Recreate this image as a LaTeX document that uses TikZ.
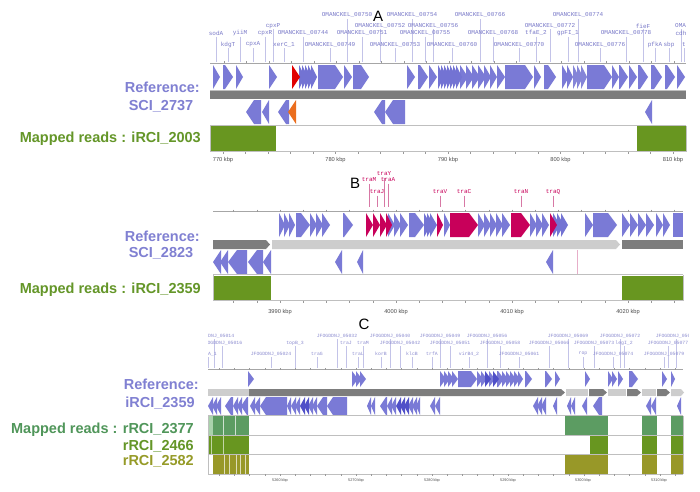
\documentclass[tikz,border=0pt]{standalone}
\usepackage{fontspec}
\setmainfont{Liberation Sans}
\newfontfamily\monof{Liberation Mono}
\definecolor{gb}{RGB}{122,122,214}
\definecolor{gd}{RGB}{80,80,200}
\definecolor{gred}{RGB}{225,0,0}
\definecolor{gorg}{RGB}{235,110,30}
\definecolor{gpink}{RGB}{200,0,90}
\definecolor{rdgray}{RGB}{125,125,125}
\definecolor{rlgray}{RGB}{205,205,205}
\definecolor{rgreen}{RGB}{104,150,32}
\definecolor{rteal}{RGB}{92,156,98}
\definecolor{rtealL}{RGB}{170,210,172}
\definecolor{rolive}{RGB}{152,152,40}
\definecolor{reflab}{RGB}{128,128,210}
\definecolor{maplab}{RGB}{100,150,40}
\definecolor{tealab}{RGB}{80,150,90}
\definecolor{olivlab}{RGB}{150,155,40}
\definecolor{tlab}{RGB}{120,120,200}
\definecolor{tline}{RGB}{195,195,232}
\definecolor{plline}{RGB}{215,120,165}
\newcommand\genef[6]{%
 \pgfmathsetmacro\gA{max(#2,#3-#6)}%
 \pgfmathsetmacro\gM{(#4+#5)/2}%
 \fill[#1] (#2,#4) -- (\gA,#4) -- (#3,\gM) -- (\gA,#5) -- (#2,#5) -- cycle;}
\newcommand\gener[6]{%
 \pgfmathsetmacro\gA{min(#3,#2+#6)}%
 \pgfmathsetmacro\gM{(#4+#5)/2}%
 \fill[#1] (#2,\gM) -- (\gA,#4) -- (#3,#4) -- (#3,#5) -- (\gA,#5) -- cycle;}
\tikzset{
 sidelab/.style={font=\fontsize{14.5}{17}\selectfont\bfseries, inner sep=0pt},
 alab/.style={font=\monof\fontsize{6}{6}\selectfont, text=tlab, inner sep=0pt},
 clab/.style={font=\monof\fontsize{4.8}{5}\selectfont, text=tlab!85, inner sep=0pt},
 plab/.style={font=\monof\fontsize{6}{6}\selectfont, text=gpink, inner sep=0pt},
 lline/.style={draw=tline, line width=0.5pt},
 pline/.style={draw=plline, line width=0.5pt},
 axlab/.style={font=\fontsize{5.7}{6}\selectfont, text=black!70, inner sep=0pt},
 caxlab/.style={font=\fontsize{3.8}{4}\selectfont, text=black!70, inner sep=0pt},
 rulerline/.style={draw=black!35, line width=0.8pt},
 trackline/.style={draw=black!25, line width=0.5pt},
 tick/.style={draw=black!40, line width=0.4pt},
 letter/.style={font=\fontsize{15}{15}\selectfont, inner sep=0pt},
}
\begin{document}
\begin{tikzpicture}[x=1pt,y=-1pt]
\useasboundingbox (0,0) rectangle (700,491);
\fill[white] (0,0) rectangle (700,491);

% ================= Panel A =================
\begin{scope}
\clip (208,0) rectangle (688,64);
\foreach \x/\t in {347/OMANCKEL\_00750,412/OMANCKEL\_00754,480/OMANCKEL\_00766,578/OMANCKEL\_00774}
 {\draw[lline] (\x,19) -- (\x,62); \node[alab] (ta1\x) at (\x,15) {\t};}
\foreach \x/\t in {273/cpxP,380/OMANCKEL\_00752,433/OMANCKEL\_00756,550/OMANCKEL\_00772,643/fieF}
 {\draw[lline] (\x,29) -- (\x,62); \node[alab] (ta2\x) at (\x,26) {\t};}
\node[alab, anchor=west] (ta2oma) at (675,26) {OMA};
\draw[lline] (681,29) -- (681,62);
\foreach \x/\t in {216/sodA,240/yiiM,265/cpxR,303/OMANCKEL\_00744,362/OMANCKEL\_00751,425/OMANCKEL\_00755,493/OMANCKEL\_00768,536/tfaE\_2,568/gpFI\_1,626/OMANCKEL\_00778,681/cdh}
 {\draw[lline] (\x,36.5) -- (\x,62); \node[alab] (ta3\x) at (\x,33) {\t};}
\foreach \x/\t in {228/kdgT,253/cpxA,284/xerC\_1,330/OMANCKEL\_00749,395/OMANCKEL\_00753,452/OMANCKEL\_00760,519/OMANCKEL\_00770,600/OMANCKEL\_00776,655/pfkA,669/sbp,684/t}
 {\draw[lline] (\x,48) -- (\x,62); \node[alab] (ta4\x) at (\x,44.5) {\t};}
\end{scope}
\node[letter, anchor=base] (letA) at (378,21) {A};
\draw[rulerline] (210,63) -- (686,63);
\foreach \t in {224,246.5,...,686} \draw[tick] (\t,61) -- (\t,63);
% forward genes
\foreach \a/\b in {213/220,223/233,236/243,269/277,318/343,344/352,353/369,407/415,418/428,429/437,460/468,466/474,472/480,478/486,484/491,490/497,497/505,505/533,534/541,544/556,562/569,567/573,587/612,612/619,619/628,629/637,638/648,651/662,665/675,677/685}
 {\genef{gb}{\a}{\b}{65}{89}{8}}
\foreach \a in {299,302,...,311} {\genef{gd!80}{\a}{\a+6}{65}{89}{6}}
\foreach \a in {438,441,...,456} {\genef{gd!80}{\a}{\a+6}{65}{89}{6}}
\foreach \a in {573,577,581} {\genef{gd!70}{\a}{\a+6}{65}{89}{6}}
\genef{gred}{292}{300}{65}{89}{8}
% gray bar
\fill[rdgray] (210,91) rectangle (686,99);
% reverse genes
\foreach \a/\b in {246/261,262/269,278/289,374/385,385/405,645/652}
 {\gener{gb}{\a}{\b}{100}{124}{8}}
\gener{gorg}{288}{296}{100}{124}{8}
% reads
\fill[rgreen] (210,126) rectangle (276,151);
\fill[rgreen] (637,126) rectangle (686,151);
\draw[trackline] (210,90) -- (686,90) (210,125.5) -- (686,125.5) (210,151.5) -- (686,151.5)
 (210,125.5) -- (210,151.5) (686,125.5) -- (686,151.5);
\foreach \t in {223,245.5,...,686} \draw[tick] (\t,152) -- (\t,154);
\foreach \x/\l in {223/770,335.5/780,448/790,560.5/800,673/810} \node[axlab] (axA\l) at (\x,160) {\l\ kbp};
% side labels
\node[sidelab, text=reflab, anchor=base east] (refA) at (200,92) {Reference:};
\node[sidelab, text=reflab, anchor=base] (nameA) at (161,110) {SCI\_2737};
\node[sidelab, text=maplab, anchor=base east] (mapA) at (201,142.5) {Mapped reads : iRCI\_2003};

% ================= Panel B =================
\foreach \x/\y/\t in {384/174/traY,369/180/traM,388/180/traA,377/192/traJ,440/192/traV,464/192/traC,521/192/traN,553/192/traQ}
 {\draw[pline] (\x,\y+3.5) -- (\x,207); \node[plab] (tb\t) at (\x,\y) {\t};}
\node[letter, anchor=base] (letB) at (355,188) {B};
\draw[rulerline] (213,211.5) -- (683,211.5);
\foreach \t in {233.6,256.8,...,683} \draw[tick] (\t,209.5) -- (\t,211.5);
\foreach \a/\b in {279/285,284/290,289/295,296/310,310/317,316/323,322/330,343/353,388/395,394/401,400/408,409/424,444/450,478/485,484/491,490/497,496/503,502/510,530/537,536/543,542/549,585/593,593/617,622/630,630/638,638/646,646/654,656/663,663/670}
 {\genef{gb}{\a}{\b}{213}{237}{9}}
\fill[gb] (673,213) rectangle (683,237);
\foreach \a in {424,427,430} {\genef{gd!80}{\a}{\a+7}{213}{237}{7}}
\foreach \a in {553,557,561} {\genef{gd!80}{\a}{\a+7}{213}{237}{7}}
\foreach \a/\b in {366/373,373/380,380/387,386/392,437/443,450/478,511/530,550/557}
 {\genef{gpink}{\a}{\b}{213}{237}{9}}
% bar
\genef{rdgray}{213}{270}{240}{249}{4}
\genef{rlgray}{272}{620}{240}{249}{4}
\fill[rdgray] (622,240) rectangle (683,249);
% reverse
\foreach \a/\b in {213/221,220/228,228/247,248/263,263/271,335/342,357/363,546/553}
 {\gener{gb}{\a}{\b}{250}{274}{9}}
\draw[draw=plline!60, line width=0.6pt] (577,250) -- (577,274);
% reads
\fill[rgreen] (213,275.5) rectangle (271,300);
\fill[rgreen] (622,275.5) rectangle (683,300);
\draw[trackline] (213,274.5) -- (683,274.5) (213,300.5) -- (683,300.5)
 (213,274.5) -- (213,300.5) (683,274.5) -- (683,300.5);
\foreach \t in {233.6,256.8,...,683} \draw[tick] (\t,300.5) -- (\t,302.5);
\foreach \x/\l in {280/3990,396/4000,512/4010,628/4020} \node[axlab] (axB\l) at (\x,312) {\l\ kbp};
\node[sidelab, text=reflab, anchor=base east] (refB) at (200,241.5) {Reference:};
\node[sidelab, text=reflab, anchor=base] (nameB) at (161,257) {SCI\_2823};
\node[sidelab, text=maplab, anchor=base east] (mapB) at (201,293) {Mapped reads : iRCI\_2359};

% ================= Panel C =================
\begin{scope}
\clip (208,328) rectangle (688,370);
\foreach \x/\t in {214/JFOGDDNJ\_05014,337/JFOGDDNJ\_05032,390/JFOGDDNJ\_05040,440/JFOGDDNJ\_05049,487/JFOGDDNJ\_05056,568/JFOGDDNJ\_05069,620/JFOGDDNJ\_05072,676/JFOGDDNJ\_05078}
 {\draw[lline] (\x,339) -- (\x,368); \node[clab] (tc1\x) at (\x,336) {\t};}
\foreach \x/\t in {222/JFOGDDNJ\_05016,295/topB\_3,346/traJ,363/traM,400/JFOGDDNJ\_05042,450/JFOGDDNJ\_05051,500/JFOGDDNJ\_05058,549/JFOGDDNJ\_05066,594/JFOGDDNJ\_05073,624/legI\_2,668/JFOGDDNJ\_05077}
 {\draw[lline] (\x,346) -- (\x,368); \node[clab] (tc2\x) at (\x,343) {\t};}
\foreach \x/\t in {208/parA\_1,271/JFOGDDNJ\_05024,317/traG,358/traL,381/korB,412/klcB,432/trfA,469/virB4\_2,519/JFOGDDNJ\_05061,583/rop,613/JFOGDDNJ\_05074,664/JFOGDDNJ\_05079}
 {\draw[lline] (\x,357) -- (\x,368); \node[clab] (tc3\x) at (\x,354) {\t};}
\end{scope}
\node[letter, anchor=base] (letC) at (364,329) {C};
\draw[rulerline] (208,369.5) -- (683,369.5);
\foreach \t in {219.2,234.4,...,683} \draw[tick] (\t,368) -- (\t,369.5);
% forward
\foreach \a/\b in {248/254,352/358,356/362,360/366,440/446,444/450,448/454,452/458,458/477,477/483,481/487,489/495,497/504,502/508,506/512,510/516,514/520,518/523,525/532,545/552,555/560,585/590,608/613,612/617,618/623,629/638,662/667,671/675}
 {\genef{gb}{\a}{\b}{371}{387}{6}}
\foreach \a in {485,493} {\genef{gd}{\a}{\a+6}{371}{387}{6}}
% bar
\fill[rlgray] (208,389) rectangle (249,396);
\genef{rdgray}{249}{565}{389}{396}{4}
\fill[rlgray] (566,389) rectangle (588,396);
\genef{rdgray}{589}{607}{389}{396}{4}
\fill[rlgray] (608,389) rectangle (626,396);
\genef{rdgray}{627}{641}{389}{396}{4}
\fill[rlgray] (642,389) rectangle (656,396);
\genef{rdgray}{657}{670}{389}{396}{4}
\genef{rlgray}{671}{684}{389}{396}{3}
% reverse
\foreach \a/\b in {208/213,212/217,216/221,225/233,233/238,237/242,241/248,250/255,254/260,260/287,287/291,291/296,295/300,308/313,312/317,317/327,327/347,367/371,371/375,380/387,387/392,391/396,408/413,412/417,416/420,430/435,435/440,533/538,537/542,541/546,553/557,567/571,571/575,582/587,593/602,646/651,651/656,677/681}
 {\gener{gb}{\a}{\b}{397}{415}{6}}
\foreach \a in {300,304,396,400,404} {\gener{gd}{\a}{\a+5}{397}{415}{6}}
% reads row 1
\fill[rtealL] (208,416) rectangle (213,434.5);
\fill[rteal] (213,416) rectangle (249,434.5);
\foreach \a/\b in {565/608,642/657,671/683} \fill[rteal] (\a,416) rectangle (\b,434.5);
\foreach \x in {223,235} \draw[white!70!rteal, line width=0.8pt] (\x,416) -- (\x,434.5);
% reads row 2
\fill[rgreen] (208,435.5) rectangle (249,454);
\foreach \a/\b in {590/608,642/657,671/683} \fill[rgreen] (\a,435.5) rectangle (\b,454);
\foreach \x in {211,223} \draw[white!60!rgreen, line width=0.6pt] (\x,435.5) -- (\x,454);
% reads row 3
\fill[rolive] (213,455) rectangle (249,473.5);
\foreach \a/\b in {565/608,642/657,671/683} \fill[rolive] (\a,455) rectangle (\b,473.5);
\foreach \x in {224,229,236,240,245} \draw[white!20!rolive!40, line width=0.7pt] (\x,455) -- (\x,473.5);
\draw[trackline] (208,415.5) -- (683,415.5) (208,435) -- (683,435) (208,454.5) -- (683,454.5) (208,474) -- (683,474)
 (208,415.5) -- (208,474) (683,415.5) -- (683,474);
\foreach \t in {219.2,234.4,...,683} \draw[tick] (\t,474) -- (\t,475.5);
\foreach \x/\l in {280/5260,356/5270,432/5280,508/5290,583/5300,659/5310} \node[caxlab] (axC\l) at (\x,481) {\l\ kbp};
\node[sidelab, text=reflab, anchor=base east] (refC) at (199,389.5) {Reference:};
\node[sidelab, text=reflab, anchor=base] (nameC) at (160,407) {iRCI\_2359};
\node[sidelab, text=tealab, anchor=base east] (mapC1) at (194,433) {Mapped reads : rRCI\_2377};
\node[sidelab, text=maplab, anchor=base east] (mapC2) at (194,450) {rRCI\_2466};
\node[sidelab, text=olivlab, anchor=base east] (mapC3) at (194,465) {rRCI\_2582};
\end{tikzpicture}
\end{document}
